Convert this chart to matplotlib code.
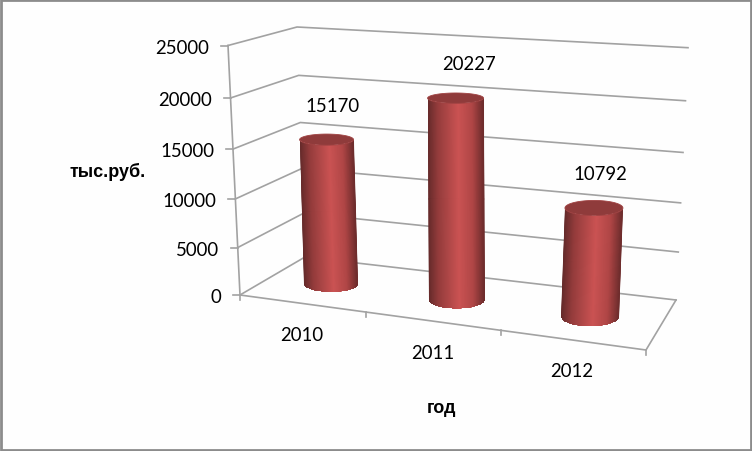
#coding=utf-8
import matplotlib
matplotlib.use('Agg')
import matplotlib.pyplot as plt
import numpy as np
from matplotlib.colors import LinearSegmentedColormap
from matplotlib.patches import Polygon, Rectangle

years = ['2010', '2011', '2012']
values = [15170, 20227, 10792]
axis_ticks = [0, 5000, 10000, 15000, 20000, 25000]
ylabel = 'тыс.руб.'
xlabel = 'год'

## corners of the 3d box on screen: front-left, front-right, back-right, back-left
floor_pts = [(240, 296), (646, 351), (676, 301), (305, 258)]
top_pts = [(228, 46.5), (665, 73), (688, 48.7), (297, 28)]
v_max = 25000
bar_v = 0.46
radius_v = 0.2
bar_half_w = [27, 28, 29]
label_dx = [6, 13, 6]

plt.rcParams['font.family'] = ['Lato', 'Noto Sans', 'DejaVu Sans']
cyl = LinearSegmentedColormap.from_list('cyl', [(0, '#642a2a'), (0.18, '#943c3c'),
                                                (0.55, '#cb5353'), (0.8, '#b04646'),
                                                (1, '#6c2c2c')])


def homography(pts):
    src = [(0, 0), (1, 0), (1, 1), (0, 1)]
    a, b = [], []
    for (u, v), (x, y) in zip(src, pts):
        a.append([u, v, 1, 0, 0, 0, -u * x, -v * x])
        a.append([0, 0, 0, u, v, 1, -u * y, -v * y])
        b += [x, y]
    return np.append(np.linalg.solve(np.array(a, float), np.array(b, float)), 1).reshape(3, 3)


H_floor = homography(floor_pts)
H_top = homography(top_pts)


def apply_h(H, u, v):
    p = H @ np.array([u, v, np.ones_like(u)])
    return p[0] / p[2], p[1] / p[2]


def project(u, v, value):
    u = np.asarray(u, float)
    v = np.asarray(v, float)
    x0, y0 = apply_h(H_floor, u + 0.014 * np.sin(np.pi * u), v)
    x1, y1 = apply_h(H_top, u, v)
    w = value / v_max
    w = w / (1.065 - 0.065 * w)  # heights shrink a bit towards the floor
    return x0 + (x1 - x0) * w, y0 + (y1 - y0) * w


def ellipse(uc, val, half_w, t):
    cx, cy = project(uc, bar_v, val)
    yr = project([uc, uc], [bar_v - radius_v, bar_v + radius_v], val)[1]
    b = (yr[0] - yr[1]) / 2
    return cx + half_w * np.cos(t), cy + b * np.sin(t)


fig = plt.figure(figsize=(7.52, 4.52), dpi=100, facecolor='#fefefe')
ax = fig.add_axes([0, 0, 1, 1])
ax.set_xlim(0, 752)
ax.set_ylim(452, 0)
ax.axis('off')
ax.add_patch(Rectangle((1, 1), 749.5, 449.5, fill=False, ec='#8c8c8c', lw=2))

grid_c = '#a2a2a2'
txt_c = '#000000'
## walls
for t in axis_ticks:
    xs, ys = project([0, 0, 1], [0, 1, 1], t)
    ax.plot(xs, ys, color=grid_c, lw=1.2, zorder=1)
    ax.plot([xs[0] - 7, xs[0]], [ys[0], ys[0]], color=grid_c, lw=1.2, zorder=1)
    ax.text(xs[0] - 19, ys[0] + 1.5, str(t), ha='right', va='center', fontsize=13.4, color=txt_c)
xs0, ys0 = project(0, 0, 0)
xs1, ys1 = project(0, 0, v_max)
ax.plot([xs0, xs1], [ys0, ys1], color=grid_c, lw=1.2, zorder=1)

## floor
xs, ys = project([0, 1, 1], [0, 0, 1], 0)
ax.plot(xs, ys, color=grid_c, lw=1.2, zorder=1)
for i in range(len(years) + 1):
    x, y = project(i / len(years), 0, 0)
    ax.plot([x, x], [y, y + 5], color=grid_c, lw=1.2, zorder=1)

## cylinders: gradient mesh clipped to the outline
for i, (year, val) in enumerate(zip(years, values)):
    uc = (i + 0.5) / len(years)
    hw = bar_half_w[i]
    xb0, yb0 = project(uc, bar_v, 0)
    xt0, yt0 = project(uc, bar_v, val)
    rows = np.linspace(-0.1, 1.1, 3)
    fr = np.linspace(0, 1, 60)
    yy = np.outer(yt0 + (yb0 - yt0) * rows, np.ones_like(fr))
    cx = xt0 + (xb0 - xt0) * rows
    xx = np.outer(cx, np.ones_like(fr)) + hw * (2 * fr - 1)
    cc = np.outer(np.ones_like(rows), fr)
    mesh = ax.pcolormesh(xx, yy, cc, cmap=cyl, vmin=0, vmax=1, shading='gouraud', zorder=3)

    t1 = np.linspace(np.pi, 0, 60)
    xb, yb = ellipse(uc, 0, hw, t1)
    xt, yt = ellipse(uc, val, hw, t1)
    outline = Polygon(np.column_stack([np.r_[xb, xt[::-1]], np.r_[yb, yt[::-1]]]), closed=True,
                      transform=ax.transData, fc='none', ec='none')
    ax.add_patch(outline)
    mesh.set_clip_path(outline)

    xe, ye = ellipse(uc, val, hw, np.linspace(0, 2 * np.pi, 90))
    ax.add_patch(Polygon(np.column_stack([xe, ye]), closed=True, fc='#8f3b3b', ec='#a04343', lw=0.6, zorder=4))

    ax.text(float(xt0) + label_dx[i], float(yt0) - 34.5, str(val), ha='center', va='center',
            fontsize=13.4, color=txt_c, zorder=5)
    xl, yl = project(uc, 0, 0)
    ax.text(float(xl), float(yl) + 31, year, ha='center', va='center', fontsize=13.4, color=txt_c)

ax.text(108, 172, ylabel, ha='center', va='center', fontsize=13, fontweight='bold',
        family=['Liberation Sans', 'DejaVu Sans'], color=txt_c)
ax.text(442, 409, xlabel, ha='center', va='center', fontsize=13, fontweight='bold',
        family=['Liberation Sans', 'DejaVu Sans'], color=txt_c)

fig.savefig('out.png', dpi=100, facecolor=fig.get_facecolor())
